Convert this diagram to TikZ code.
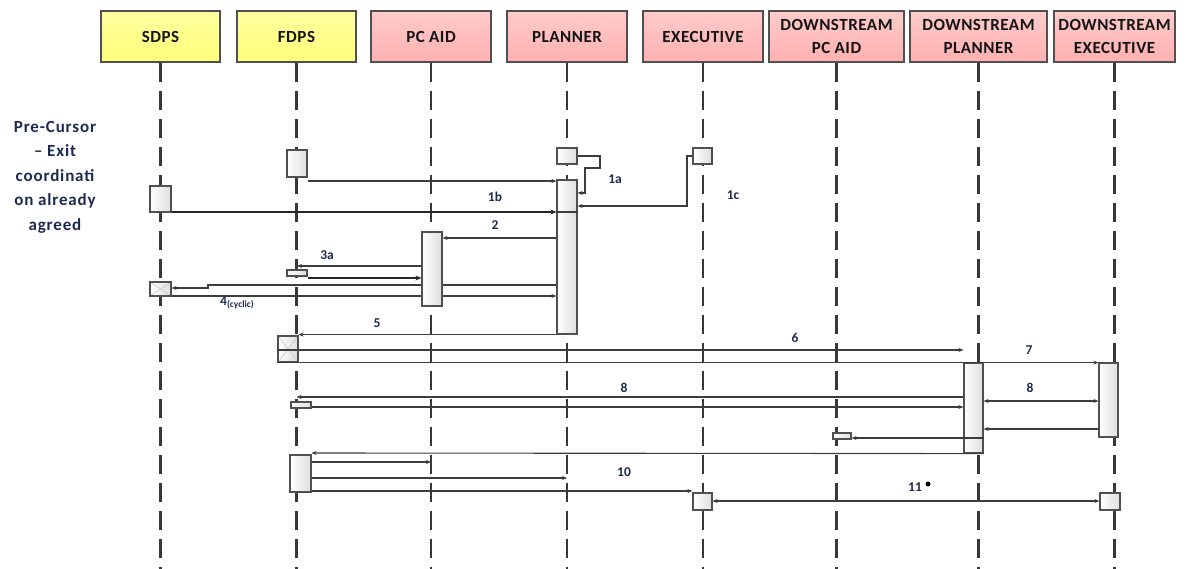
\documentclass[tikz,border=0pt]{standalone}
\usepackage{fontspec}
\setmainfont{Carlito}
\newfontfamily\hdrfont[LetterSpace=3]{Carlito}
\newfontfamily\notefont[LetterSpace=5]{Carlito}
\usetikzlibrary{arrows.meta}

\pgfdeclarelayer{lifelines}
\pgfdeclarelayer{wires}
\pgfsetlayers{lifelines,wires,main}

\definecolor{ylwTop}{HTML}{FFFFA0}
\definecolor{ylwBot}{HTML}{FFFF78}
\definecolor{pnkTop}{HTML}{FFCBCB}
\definecolor{pnkBot}{HTML}{FFB0B0}
\definecolor{edge}{HTML}{505050}
\definecolor{ink}{HTML}{1E2A50}
\definecolor{wire}{HTML}{3C3C3C}
\definecolor{lline}{HTML}{383838}

\tikzset{
  hdr/.style={draw=edge, line width=1.4pt, rectangle, minimum height=51pt,
    inner sep=0pt, align=center, text=black!92,
    font=\hdrfont\bfseries\fontsize{17}{23}\selectfont},
  yel/.style={top color=ylwTop, bottom color=ylwBot},
  pnk/.style={top color=pnkTop, bottom color=pnkBot},
  lifeline/.style={draw=lline, line width=2.7pt, dash pattern=on 19pt off 9pt},
  actbox/.style={draw=edge, line width=1.2pt, rectangle, inner sep=0pt,
    left color=white, right color=black!13},
  crossbox/.style={actbox, path picture={
    \draw[black!22, line width=0.6pt]
      (path picture bounding box.south west) -- (path picture bounding box.north east)
      (path picture bounding box.north west) -- (path picture bounding box.south east);}},
  msg/.style={draw=wire, line width=1.1pt, -{Stealth[length=5pt,width=4pt]}},
  msgboth/.style={draw=wire, line width=1.1pt,
    {Stealth[length=5pt,width=4pt]}-{Stealth[length=5pt,width=4pt]}},
  msgbold/.style={draw=black!85, line width=1.5pt, -{Stealth[length=6pt,width=5pt]}},
  plain/.style={draw=wire, line width=1.1pt},
  lbl/.style={font=\bfseries\fontsize{13.5}{13.5}\selectfont, text=ink, inner sep=0pt},
  note/.style={font=\notefont\bfseries\fontsize{17}{24.5}\selectfont, text=ink, align=center, inner sep=0pt}
}

\begin{document}
\begin{tikzpicture}[x=1pt,y=-1pt]
\useasboundingbox (0,0) rectangle (1186,569);

% ---- participants ----
\node[hdr,yel,minimum width=119pt] (sdps)  at (160.5,36.5) {SDPS};
\node[hdr,yel,minimum width=119pt] (fdps)  at (296.5,36.5) {FDPS};
\node[hdr,pnk,minimum width=120pt] (pcaid) at (431,36.5)   {PC AID};
\node[hdr,pnk,minimum width=120pt] (plan)  at (567,36.5)   {PLANNER};
\node[hdr,pnk,minimum width=120pt] (exec)  at (703,36.5)   {EXECUTIVE};
\node[hdr,pnk,minimum width=135pt] (dpc)   at (836.5,36.5) {DOWNSTREAM\\PC AID};
\node[hdr,pnk,minimum width=137pt] (dplan) at (978.5,36.5) {DOWNSTREAM\\PLANNER};
\node[hdr,pnk,minimum width=121pt] (dexec) at (1114.5,36.5) {DOWNSTREAM\\EXECUTIVE};

\begin{pgfonlayer}{lifelines}
  \foreach \n in {sdps,fdps,pcaid,plan,exec,dpc,dplan,dexec}
    \draw[lifeline] (\n.south) -- (\n.south |- 0,569);
\end{pgfonlayer}

% ---- side note ----
\node[note] (pre) at (55,177) {Pre-Cursor\\– Exit\\coordinati\\on already\\agreed};

% ---- activation boxes ----
\node[actbox, minimum width=20pt, minimum height=27pt]  (fA)   at (297,163.5) {};
\node[actbox, minimum width=21pt, minimum height=26pt]  (sA)   at (160.5,199) {};
\node[actbox, minimum width=20pt, minimum height=16pt]  (pTop) at (567,156) {};
\node[actbox, minimum width=19pt, minimum height=16pt]  (eTop) at (702.5,156) {};
\node[actbox, minimum width=20pt, minimum height=154pt] (pAct) at (567,257) {};
\node[actbox, minimum width=20pt, minimum height=74pt]  (cAct) at (432,269) {};
\node[actbox, minimum width=20pt, minimum height=6pt]   (fB)   at (297,273) {};
\node[crossbox, minimum width=21pt, minimum height=14pt] (sB)  at (160.5,289) {};
\node[crossbox, minimum width=20pt, minimum height=26pt] (fC)  at (288,349) {};
\node[actbox, minimum width=19pt, minimum height=90pt]  (dpAct) at (973.5,408) {};
\node[actbox, minimum width=19pt, minimum height=74pt]  (deAct) at (1108.5,400) {};
\node[actbox, minimum width=20pt, minimum height=6pt]   (fD)   at (301,405) {};
\node[actbox, minimum width=18pt, minimum height=6pt]   (dcB)  at (842,436) {};
\node[actbox, minimum width=21pt, minimum height=37pt]  (fE)   at (300.5,473.5) {};
\node[actbox, minimum width=19pt, minimum height=17pt]  (eB)   at (702.5,501.5) {};
\node[actbox, minimum width=20pt, minimum height=17pt]  (deB)  at (1110,501.5) {};

% ---- messages ----
% 1a / 1b / 1c
\draw[msg] (fA.east |- 0,181) -- (pAct.west |- 0,181);
\draw[msg] (pTop.east) -- (600,156) -- (600,168) -- (585,168) -- (585,193) -- (pAct.east |- 0,193);
\draw[msg] (eTop.west) -- (687,156) -- (687,206) -- (pAct.east |- 0,206);
\draw[msgbold] (sA.east |- 0,212) -- (pAct.west |- 0,212);
\draw[plain] (pAct.west |- 0,212) -- (pAct.east |- 0,212);
% 2
\draw[msg] (pAct.west |- 0,238) -- (cAct.east |- 0,238);
% 3a
\draw[msg] (cAct.west |- 0,266) -- (fB.north |- 0,266);
\draw[msgbold, line width=1.3pt] (fB.east |- 0,278) -- (cAct.west |- 0,278);
% 4 (cyclic), passing behind the PC AID bar
\begin{pgfonlayer}{wires}
  \draw[msg] (pAct.west |- 0,285) -- (208,285) -- (208,288) -- (sB.east |- 0,288);
  \draw[msg] (sB.east |- 0,296) -- (pAct.west |- 0,296);
\end{pgfonlayer}
% 5
\draw[msg] (pAct.south west) -- (fC.north east |- pAct.south west);
% 6, 7
\draw[msg] (fC.west |- 0,350) -- (dpAct.west |- 0,350);
\draw[msg] (fC.south west) -- (deAct.west |- fC.south west);
% 8
\draw[msg] (dpAct.west |- 0,397) -- (fdps.south |- 0,397);
\draw[msg] (fD.east |- 0,407) -- (dpAct.west |- 0,407);
\draw[msgboth] (dpAct.east |- 0,401) -- (deAct.west |- 0,401);
\draw[msg] (deAct.west |- 0,429) -- (dpAct.east |- 0,429);
% to downstream PC AID
\draw[msg] (dpAct.east |- 0,438) -- (dcB.east |- 0,438);
% back to FDPS
\draw[msg] (dpAct.south east) -- (fE.east |- 0,453);
% 10
\draw[msg] (fE.east |- 0,462) -- (pcaid.south |- 0,462);
\draw[msg] (fE.east |- 0,478) -- (plan.south |- 0,478);
\draw[msg] (fE.east |- 0,491) -- (eB.west |- 0,491);
% 11
\draw[msgboth] (eB.east |- 0,501) -- (deB.west |- 0,501);

% ---- labels ----
\node[lbl] (l1a) at (615,179) {1a};
\node[lbl] (l1b) at (495,197) {1b};
\node[lbl] (l1c) at (733,195) {1c};
\node[lbl] (l2)  at (495,225) {2};
\node[lbl] (l3a) at (327,255) {3a};
\node[lbl, anchor=west] (l4) at (220,303) {4\textsubscript{(cyclic)}};
\node[lbl] (l5)  at (377,323) {5};
\node[lbl] (l6)  at (795,338) {6};
\node[lbl] (l7)  at (1029,350) {7};
\node[lbl] (l8a) at (624,388) {8};
\node[lbl] (l8b) at (1030,388) {8};
\node[lbl] (l10) at (624,472) {10};
\node[lbl] (l11) at (915,487) {11};
\node[circle, fill=black, inner sep=0pt, minimum size=5pt] (l11dot) at (928,484) {};

\end{tikzpicture}
\end{document}
